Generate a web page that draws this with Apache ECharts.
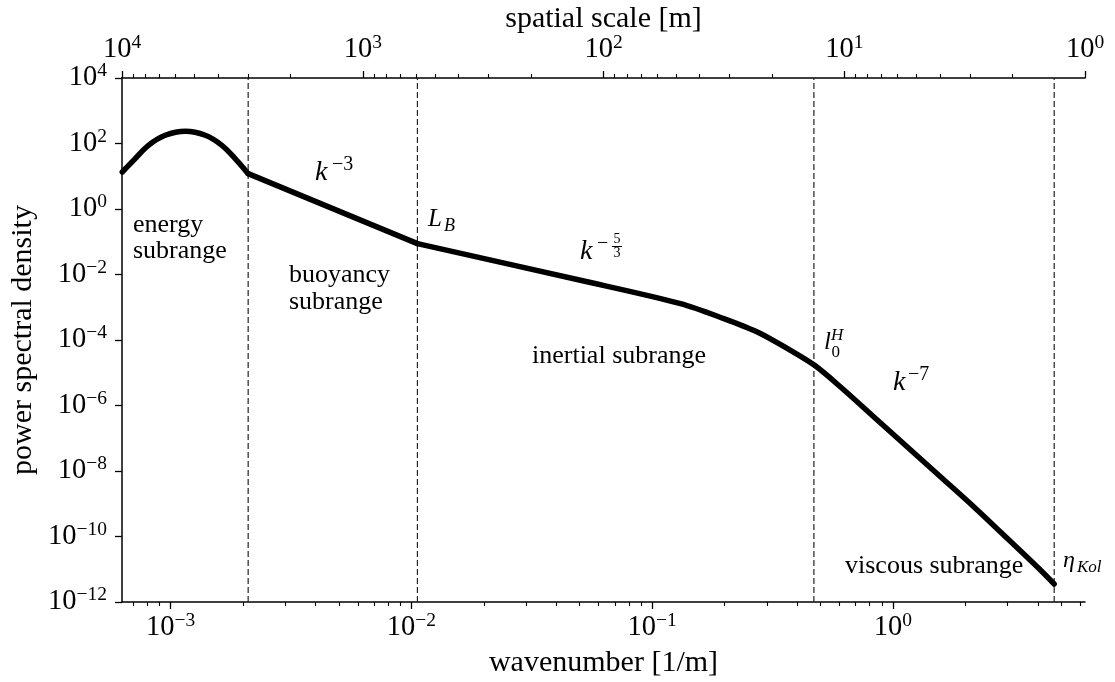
<!DOCTYPE html>
<html>
<head>
<meta charset="utf-8">
<script src="https://cdn.jsdelivr.net/npm/echarts@6/dist/echarts.min.js"></script>
<style>
  html, body { margin: 0; padding: 0; background: #fff; }
  #chart { width: 1115px; height: 682px; }
</style>
</head>
<body>
<div id="chart"></div>
<script>
// Wavenumber k [1/m] and power spectral density for each subrange of the spectrum
const energyK   = [6.3e-4, 7.13e-4, 8.09e-4, 9.51e-4, 1.151e-3, 1.393e-3, 1.633e-3, 1.854e-3, 2.1e-3];
const energyPsd = [13.5, 34.6, 88, 178, 236, 178, 88, 34.6, 12.0];

const buoyancyK   = [2.1e-3, 1.06e-2];
const buoyancyPsd = [12.0, 0.0879];

const inertialK   = [1.06e-2, 0.0504, 0.1312, 0.1986, 0.2735, 0.3758, 0.4732, 0.6067, 0.8346, 1.149, 1.581, 2.173, 2.992, 4.111, 4.677];
const inertialPsd = [0.0879, 6.65e-3, 1.29e-3, 4.50e-4, 1.754e-4, 4.84e-5, 1.686e-5, 3.67e-6, 4.46e-7, 5.41e-8, 6.56e-9, 7.96e-10, 8.63e-11, 9.29e-12, 3.55e-12];

// Subrange boundaries (wavenumber): buoyancy start, L_B, l_0^H, eta_Kol
const boundaryK = [2.1e-3, 1.06e-2, 0.470, 4.68];

// Axis ranges and labelled ticks
const kMin = 2 * Math.PI * 1e-4;
const kMax = 2 * Math.PI;
const psdMin = 1e-12;
const psdMax = 1e4;
const kTicks = [1e-3, 1e-2, 1e-1, 1];
const scaleTicks = [1, 10, 100, 1000, 10000];
const psdTicks = [1e-12, 1e-10, 1e-8, 1e-6, 1e-4, 1e-2, 1, 1e2, 1e4];

// Minor log ticks (2..9 per decade) inside a range
function minorTicks(lo, hi) {
  const out = [];
  for (let e = Math.floor(Math.log10(lo)); e <= Math.ceil(Math.log10(hi)); e++) {
    for (let m = 2; m <= 9; m++) {
      const v = m * Math.pow(10, e);
      if (v >= lo && v <= hi) out.push(v);
    }
  }
  return out;
}

const SERIF = '"Liberation Serif", "Times New Roman", serif';
const BLACK = '#000';

function powLabel(v) {
  const e = Math.round(Math.log10(v));
  return '{b|10}{s|' + String(e).replace('-', '\u2212') + '}';
}
const tickRich = {
  b: { fontSize: 28.5, fontFamily: SERIF, lineHeight: 34, color: BLACK },
  s: { fontSize: 19.5, fontFamily: SERIF, lineHeight: 14, verticalAlign: 'top', color: BLACK }
};

const axisLineStyle = { color: BLACK, width: 1.5 };
const nameStyle = { fontSize: 30, fontFamily: SERIF, color: BLACK };

function pairs(xs, ys) { return xs.map((x, i) => [x, ys[i]]); }

// Text placed by its alphabetic baseline
function txt(s, x, base, size, italic, align) {
  return {
    type: 'text', x: x, y: base - 0.3375 * size, silent: true, z: 100,
    style: {
      text: s, fontSize: size, fontFamily: SERIF,
      fontStyle: italic ? 'italic' : 'normal', fill: BLACK,
      align: align || 'left', textAlign: align || 'left',
      verticalAlign: 'middle', textVerticalAlign: 'middle'
    }
  };
}

const annotations = [
  txt('energy', 133, 233.5, 26), txt('subrange', 133, 260, 26),
  txt('buoyancy', 289, 284, 26), txt('subrange', 289, 311, 26),
  txt('inertial subrange', 532, 365, 26),
  txt('viscous subrange', 845, 575, 26),
  // k^-3
  txt('k', 315, 181.7, 28, true), txt('\u22123', 332, 171.5, 20),
  // k^-5/3
  txt('k', 580, 260.7, 28, true), txt('\u2212', 597, 250, 20),
  txt('5', 617, 244, 14, false, 'center'), txt('3', 617, 258.4, 14, false, 'center'),
  { type: 'line', silent: true, z: 100, shape: { x1: 612, y1: 246.5, x2: 622, y2: 246.5 }, style: { stroke: BLACK, lineWidth: 1 } },
  // k^-7
  txt('k', 893, 391.7, 28, true), txt('\u22127', 908, 381.5, 20),
  // L_B
  txt('L', 428, 228.3, 25, true), txt('B', 444, 232.5, 18, true),
  // l_0^H
  txt('l', 824, 351, 25, true), txt('0', 831.5, 358, 17), txt('H', 831, 341.5, 17, true),
  // eta_Kol
  txt('\u03b7', 1063, 569, 24, true), txt('Kol', 1077, 573, 17, true)
];

const curveStyle = { color: BLACK, width: 5.5, cap: 'round', join: 'round' };

// Dashed vertical boundary lines spanning the full value range
const boundarySeries = boundaryK.map((k, i) => ({
  name: 'boundary' + i, type: 'line', xAxisIndex: 0, yAxisIndex: 0, z: 1,
  data: [[k, psdMin], [k, psdMax]], symbol: 'none', silent: true,
  lineStyle: { color: '#222', width: 1.2, type: [6, 3] }
}));

const chart = echarts.init(document.getElementById('chart'), null, { renderer: 'canvas' });

chart.setOption({
  animation: false,
  backgroundColor: '#fff',
  textStyle: { fontFamily: SERIF, color: BLACK },
  grid: { left: 122, right: 30, top: 78, bottom: 80, containLabel: false, outerBoundsMode: 'none' },
  xAxis: [
    { // wavenumber, bottom
      type: 'log', position: 'bottom', min: kMin, max: kMax,
      name: 'wavenumber [1/m]', nameLocation: 'middle', nameGap: 46, nameMoveOverlap: false,
      nameTextStyle: nameStyle,
      axisLine: { show: true, onZero: false, lineStyle: axisLineStyle },
      axisTick: { show: true, customValues: kTicks, length: 7, lineStyle: { color: BLACK, width: 1.3 } },
      axisLabel: { show: true, customValues: kTicks, formatter: powLabel, rich: tickRich, margin: 9 },
      splitLine: { show: false }, minorTick: { show: false }
    },
    { // wavenumber minor ticks
      type: 'log', position: 'bottom', min: kMin, max: kMax,
      axisLine: { show: false, onZero: false },
      axisTick: { show: true, customValues: minorTicks(kMin, kMax), length: 4, lineStyle: { color: BLACK, width: 1.1 } },
      axisLabel: { show: false }, splitLine: { show: false }
    },
    { // spatial scale, top
      type: 'log', position: 'top', inverse: true, min: 1, max: 1e4,
      name: 'spatial scale [m]', nameLocation: 'middle', nameGap: 44, nameMoveOverlap: false,
      nameTextStyle: nameStyle,
      axisLine: { show: true, onZero: false, lineStyle: axisLineStyle },
      axisTick: { show: true, customValues: scaleTicks, length: 7, lineStyle: { color: BLACK, width: 1.3 } },
      axisLabel: { show: true, customValues: scaleTicks, formatter: powLabel, rich: tickRich, margin: 11 },
      splitLine: { show: false }
    },
    { // spatial scale minor ticks
      type: 'log', position: 'top', inverse: true, min: 1, max: 1e4,
      axisLine: { show: false, onZero: false },
      axisTick: { show: true, customValues: minorTicks(1, 1e4), length: 4, lineStyle: { color: BLACK, width: 1.1 } },
      axisLabel: { show: false }, splitLine: { show: false }
    }
  ],
  yAxis: [
    {
      type: 'log', position: 'left', min: psdMin, max: psdMax,
      name: 'power spectral density', nameLocation: 'middle', nameGap: 84, nameMoveOverlap: false,
      nameTextStyle: nameStyle,
      axisLine: { show: true, onZero: false, lineStyle: axisLineStyle },
      axisTick: { show: true, customValues: psdTicks, length: 7, lineStyle: { color: BLACK, width: 1.3 } },
      axisLabel: { show: true, customValues: psdTicks, formatter: powLabel, rich: tickRich, margin: 15 },
      splitLine: { show: false }, minorTick: { show: false }
    }
  ],
  series: boundarySeries.concat([
    {
      name: 'energy', type: 'line', xAxisIndex: 0, yAxisIndex: 0, z: 3,
      data: pairs(energyK, energyPsd), smooth: 0.35, symbol: 'none', lineStyle: curveStyle
    },
    {
      name: 'buoyancy', type: 'line', xAxisIndex: 0, yAxisIndex: 0, z: 3,
      data: pairs(buoyancyK, buoyancyPsd), smooth: false, symbol: 'none', lineStyle: curveStyle
    },
    {
      name: 'inertial', type: 'line', xAxisIndex: 0, yAxisIndex: 0, z: 3,
      data: pairs(inertialK, inertialPsd), smooth: 0.3, symbol: 'none', lineStyle: curveStyle
    }
  ]),
  graphic: annotations
});
</script>
</body>
</html>
